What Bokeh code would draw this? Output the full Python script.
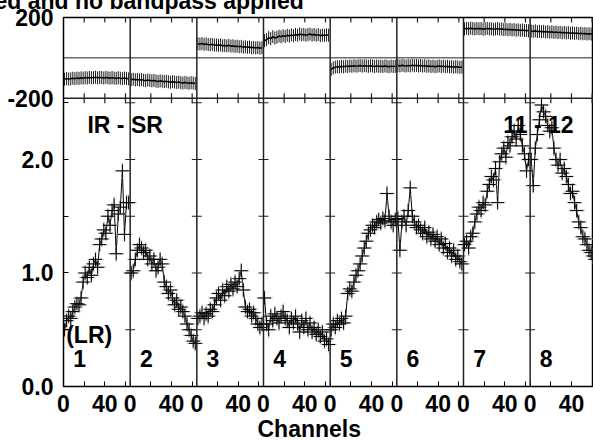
import math
from bokeh.plotting import figure
from bokeh.models import (Range1d, LinearAxis, FixedTicker, CustomJSTickFormatter,
                          Span, Title)
from bokeh.core.properties import value
from bokeh.embed import file_html
from bokeh.resources import INLINE

# ---------------- data ----------------
CHANNELS = list(range(1, 64, 2))
IF_LABELS = ["1", "2", "3", "4", "5", "6", "7", "8"]

AMP_IF1 = [0.50, 0.58, 0.62, 0.60, 0.66, 0.70, 0.73, 0.72, 0.78, 0.92, 1.00, 0.96, 1.05, 0.98, 1.08, 1.12,
           1.05, 1.25, 1.30, 1.38, 1.35, 1.50, 1.42, 1.55, 1.60, 1.17, 1.52, 1.58, 1.90, 1.34, 1.62, 1.62]
AMP_IF2 = [1.00, 1.02, 1.12, 1.20, 1.25, 1.22, 1.18, 1.20, 1.12, 1.15, 1.08, 1.12, 1.02, 1.05, 1.12, 1.08,
           0.92, 0.88, 0.82, 0.85, 0.78, 0.72, 0.76, 0.68, 0.70, 0.66, 0.62, 0.55, 0.50, 0.45, 0.40, 0.38]
AMP_IF3 = [0.60, 0.62, 0.65, 0.60, 0.64, 0.62, 0.68, 0.66, 0.72, 0.78, 0.82, 0.76, 0.85, 0.80, 0.88, 0.84,
           0.90, 0.86, 0.92, 0.88, 0.95, 1.02, 0.85, 0.70, 0.66, 0.68, 0.62, 0.65, 0.60, 0.55, 0.52, 0.55]
AMP_IF4 = [0.78, 0.55, 0.50, 0.62, 0.58, 0.64, 0.60, 0.56, 0.62, 0.66, 0.60, 0.58, 0.52, 0.60, 0.56, 0.62,
           0.55, 0.48, 0.58, 0.52, 0.60, 0.50, 0.56, 0.48, 0.52, 0.46, 0.50, 0.44, 0.48, 0.40, 0.42, 0.37]
AMP_IF5 = [0.50, 0.55, 0.52, 0.58, 0.55, 0.60, 0.56, 0.62, 0.82, 0.86, 0.84, 0.92, 0.98, 1.02, 1.08, 1.15,
           1.22, 1.28, 1.35, 1.38, 1.42, 1.40, 1.45, 1.47, 1.44, 1.48, 1.46, 1.70, 1.50, 1.45, 1.42, 1.47]
AMP_IF6 = [1.48, 1.20, 1.45, 1.50, 1.42, 1.55, 1.75, 1.50, 1.45, 1.40, 1.42, 1.38, 1.35, 1.40, 1.32, 1.36,
           1.30, 1.34, 1.28, 1.32, 1.25, 1.30, 1.22, 1.26, 1.18, 1.22, 1.15, 1.20, 1.12, 1.15, 1.10, 1.08]
AMP_IF7 = [1.25, 1.28, 1.22, 1.32, 1.35, 1.45, 1.52, 1.58, 1.55, 1.62, 1.60, 1.72, 1.78, 1.85, 1.82, 1.92,
           1.62, 1.98, 2.05, 2.10, 2.02, 2.15, 2.12, 2.20, 2.25, 2.18, 2.30, 2.22, 2.12, 2.05, 1.90, 2.00]
AMP_IF8 = [2.00, 1.77, 2.10, 2.22, 2.35, 2.48, 2.42, 2.38, 2.30, 2.25, 2.28, 2.10, 2.00, 1.95, 2.00, 1.88,
           1.92, 1.85, 1.78, 1.70, 1.72, 1.62, 1.55, 1.45, 1.40, 1.32, 1.30, 1.25, 1.20, 1.18, 1.15, 1.12]

PHASE_IF1 = [-106, -103, -105, -104, -101, -103, -100, -102, -99, -101, -98, -100, -97, -99, -98, -96,
             -99, -97, -98, -100, -97, -99, -101, -98, -100, -102, -99, -101, -103, -100, -102, -104]
PHASE_IF2 = [-108, -106, -109, -107, -110, -108, -111, -113, -110, -112, -114, -112, -115, -117, -114, -116,
             -118, -116, -119, -121, -118, -120, -122, -120, -123, -125, -122, -124, -126, -123, -125, -127]
PHASE_IF3 = [70, 68, 71, 67, 69, 66, 65, 67, 63, 64, 62, 64, 60, 61, 59, 62,
             58, 60, 56, 58, 55, 57, 53, 55, 52, 54, 50, 52, 49, 51, 48, 50]
PHASE_IF4 = [85, 90, 100, 95, 105, 98, 102, 108, 104, 110, 106, 112, 108, 114, 110, 116,
             112, 118, 114, 116, 112, 115, 118, 113, 116, 112, 115, 110, 113, 111, 114, 112]
PHASE_IF5 = [-58, -50, -46, -44, -45, -42, -44, -41, -43, -40, -42, -39, -41, -40, -38, -41,
             -39, -40, -42, -39, -41, -43, -40, -42, -41, -43, -40, -42, -44, -41, -43, -42]
PHASE_IF6 = [-38, -40, -37, -39, -41, -38, -40, -36, -39, -37, -40, -38, -41, -39, -42, -40,
             -43, -41, -44, -42, -40, -43, -41, -44, -42, -45, -43, -46, -44, -45, -47, -46]
PHASE_IF7 = [143, 146, 144, 147, 145, 143, 146, 144, 145, 142, 144, 146, 143, 145, 141, 143,
             145, 142, 144, 140, 142, 139, 141, 138, 140, 137, 139, 136, 138, 135, 136, 134]
PHASE_IF8 = [133, 131, 134, 130, 132, 129, 131, 128, 130, 127, 129, 126, 128, 125, 127, 124,
             126, 123, 125, 122, 124, 121, 123, 120, 122, 119, 121, 118, 120, 118, 119, 117]

AMPS = [AMP_IF1, AMP_IF2, AMP_IF3, AMP_IF4, AMP_IF5, AMP_IF6, AMP_IF7, AMP_IF8]
PHASES = [PHASE_IF1, PHASE_IF2, PHASE_IF3, PHASE_IF4, PHASE_IF5, PHASE_IF6, PHASE_IF7, PHASE_IF8]

AMP_TICKS = [0.0, 1.0, 2.0]
AMP_MINOR = [0.5, 1.5, 2.5]
CHAN_TICKS = [0, 40]
CHAN_MINOR = [20, 60]
PHASE_LIMITS = [-200, 200]

TITLE_TEXT = "ed and no bandpass applied"
X_LABEL = "Channels"
LEFT_NOTE = "IR - SR"
RIGHT_NOTE = "11 - 12"
POL_NOTE = "(LR)"

# ---------------- layout constants ----------------
FONT = "Liberation Sans"
FS = "23px"
PANEL_W = 64.5          # channel units per IF panel
X_END = 512.8           # visible channel span (last panel is cut by the page edge)
A_TOP = 3.251           # amplitude value at the top of the frame
A_SPLIT = 2.54          # amplitude value where the phase strip begins
N = len(AMPS)

ph_scale = (PHASE_LIMITS[1] - PHASE_LIMITS[0]) / (A_TOP - A_SPLIT)
ph_start = PHASE_LIMITS[0] - A_SPLIT * ph_scale

p = figure(width=593, height=440, output_backend="svg", toolbar_location=None,
           x_range=Range1d(0, X_END), y_range=Range1d(0, A_TOP),
           x_axis_type=None, y_axis_type=None,
           min_border_left=63, min_border_right=0, min_border_top=17, min_border_bottom=54,
           background_fill_color="white", border_fill_color="white")
p.extra_y_ranges = {"phase": Range1d(ph_start, PHASE_LIMITS[1])}
p.outline_line_color = "black"
p.outline_line_width = 1.5

# ---------------- axes ----------------
bx_major = [k * PANEL_W + c for k in range(N) for c in CHAN_TICKS]
bx_minor = [k * PANEL_W + c for k in range(N) for c in CHAN_MINOR]
xaxis = LinearAxis(ticker=FixedTicker(ticks=bx_major, minor_ticks=bx_minor),
                   formatter=CustomJSTickFormatter(args=dict(w=PANEL_W), code="""
                       const k = Math.floor(tick / w + 1e-6);
                       return String(Math.round(tick - k * w));
                   """))
xaxis.major_tick_in = 5
xaxis.major_tick_out = 0
xaxis.minor_tick_in = 5
xaxis.minor_tick_out = 0
xaxis.axis_line_color = None
xaxis.major_label_standoff = 8
xaxis.major_label_text_font = FONT
xaxis.major_label_text_font_size = FS
xaxis.major_label_text_font_style = "bold"
xaxis.major_label_text_color = "black"
p.add_layout(xaxis, "below")

ly_major = AMP_TICKS + [A_SPLIT, A_TOP - 1e-9]
yaxis = LinearAxis(ticker=FixedTicker(ticks=ly_major, minor_ticks=AMP_MINOR),
                   formatter=CustomJSTickFormatter(
                       args=dict(split=A_SPLIT, lo=str(PHASE_LIMITS[0]), hi=str(PHASE_LIMITS[1])),
                       code="""
                       if (tick > split + 0.05) return hi;
                       if (Math.abs(tick - split) < 0.01) return lo;
                       return tick.toFixed(1);
                   """))
yaxis.major_tick_in = 5
yaxis.major_tick_out = 0
yaxis.minor_tick_in = 5
yaxis.minor_tick_out = 0
yaxis.axis_line_color = None
yaxis.major_label_standoff = 10
yaxis.major_label_text_font = FONT
yaxis.major_label_text_font_size = FS
yaxis.major_label_text_font_style = "bold"
yaxis.major_label_text_color = "black"
p.add_layout(yaxis, "left")

# axis title
p.add_layout(Title(text=X_LABEL, align="left", offset=194, vertical_align="bottom", standoff=-2,
                   text_font=FONT, text_font_size=FS, text_font_style="bold",
                   text_color="black"), "below")
# page title, cut off by the top edge of the picture
p.add_layout(Title(text=TITLE_TEXT, align="left", offset=-69, vertical_align="top", standoff=-60,
                   text_font=FONT, text_font_size=FS, text_font_style="bold",
                   text_color="black"), "above")

# ---------------- panel frame lines ----------------
for k in range(1, N):
    p.add_layout(Span(location=k * PANEL_W, dimension="height", line_color="#222222", line_width=1.5))
p.add_layout(Span(location=A_SPLIT, dimension="width", line_color="#222222", line_width=1.5))
p.add_layout(Span(location=0, dimension="width", y_range_name="phase",
                  line_color="#222222", line_width=1))

# tick marks on the internal panel borders
inner_ticks = sorted(AMP_TICKS[1:] + AMP_MINOR)
bx = [k * PANEL_W for k in range(1, N) for _ in inner_ticks]
by = [t for k in range(1, N) for t in inner_ticks]
p.scatter(bx, by, marker="dash", size=10, line_color="#222222", line_width=1.2)
tx = [k * PANEL_W + c for k in range(N) for c in sorted(CHAN_TICKS + CHAN_MINOR) if c > 0]
p.scatter(tx, [A_SPLIT] * len(tx), marker="dash", angle=math.pi / 2, size=10,
          line_color="#222222", line_width=1.2)
p.scatter(tx, [PHASE_LIMITS[1]] * len(tx), marker="dash", angle=math.pi / 2, size=10,
          line_color="#222222", line_width=1.2, y_range_name="phase")

# ---------------- data ----------------
xs = [[k * PANEL_W + c for c in CHANNELS] for k in range(N)]
flat_x = [x for row in xs for x in row]
flat_a = [a for row in AMPS for a in row]
flat_p = [v for row in PHASES for v in row]

# amplitude
p.multi_line(xs, AMPS, line_color="black", line_width=1)
p.scatter(flat_x, flat_a, marker="cross", size=16, line_color="#888888", line_width=1.4, line_alpha=0.6)
p.scatter(flat_x, flat_a, marker="cross", size=13, line_color="black", line_width=1)

# phase
p.scatter(flat_x, flat_p, marker="dash", angle=math.pi / 2, size=13, line_color="#1a1a1a",
          line_width=1, y_range_name="phase")
p.multi_line(xs, PHASES, line_color="black", line_width=1.5, y_range_name="phase")

# ---------------- texts ----------------
tstyle = dict(text_font=value(FONT), text_font_size=FS, text_font_style="bold",
              text_color="black", text_baseline="middle", text_align="left")
p.text(x=[k * PANEL_W + 9.4 for k in range(N)], y=[0.25] * N, text=IF_LABELS, **tstyle)
p.text(x=[2.6], y=[0.454], text=[POL_NOTE], **tstyle)
p.text(x=[23.2], y=[2.304], text=[LEFT_NOTE], **tstyle)
p.text(x=[425.5], y=[2.308], text=[RIGHT_NOTE], **tstyle)

open("out.html", "w").write(file_html(p, INLINE))
